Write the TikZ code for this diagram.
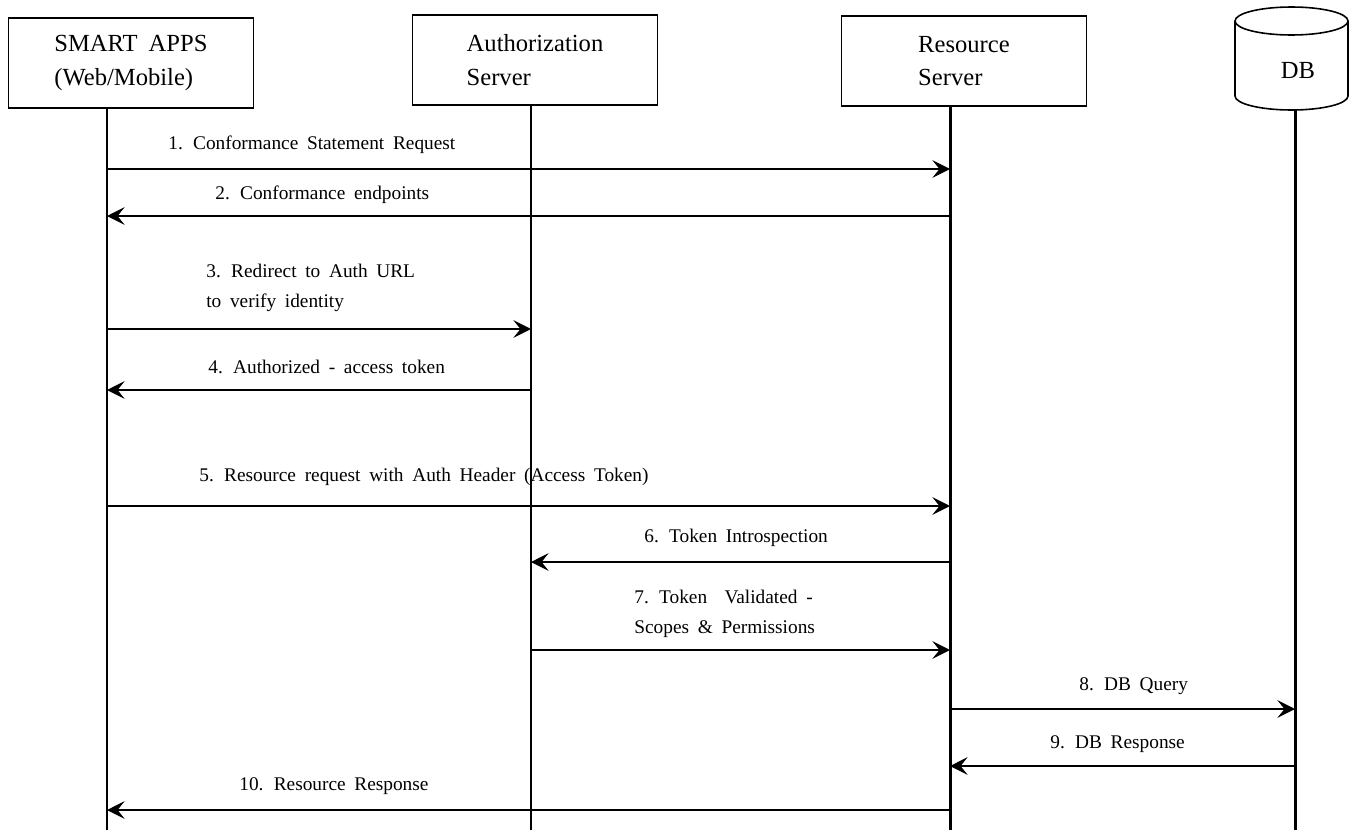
\documentclass[tikz,border=0pt]{standalone}
\usepackage{fontspec}
\setmainfont{Liberation Serif}[WordSpace=1.8]
\usetikzlibrary{arrows.meta}

\tikzset{
  actor/.style={draw, line width=0.9pt, minimum width=4.9cm, minimum height=1.8cm,
    align=left, font=\fontsize{14}{19}\selectfont},
  store/.style={line width=0.9pt},
  life/.style={line width=1.7pt},
  msg/.style={line width=1pt, -{Stealth[length=10pt,width=10pt,inset=4pt]}},
  lbl/.style={anchor=base west, inner sep=0pt, align=left, font=\fontsize{11}{17}\selectfont},
}

\begin{document}
\begin{tikzpicture}[x=0.02cm, y=0.02cm]
  \useasboundingbox (0,0) rectangle (1350,-835);
  % participants
  \node[actor] (app) at (131,-63) {SMART APPS\\(Web/Mobile)};
  \node[actor] (auth) at (535,-60) {Authorization\\Server};
  \node[actor] (res) at (964,-61) {Resource\\Server};
  % database drum
  \draw[store] (1291.5,-21) ellipse [x radius=56.5, y radius=14];
  \draw[store] (1235,-21) -- (1235,-96) arc[start angle=180, end angle=360, x radius=56.5, y radius=14] -- (1348,-21);
  \node[font=\fontsize{14}{19}\selectfont] (db) at (1298,-70) {DB};
  % message labels (two-line ones sit on their last baseline)
  \node[lbl] (l1) at (168,-149) {1. Conformance Statement Request};
  \node[lbl] (l2) at (215,-199) {2. Conformance endpoints};
  \node[lbl] (l3) at (206,-307) {3. Redirect to Auth URL\\to verify identity};
  \node[lbl] (l4) at (208,-373) {4. Authorized - access token};
  \node[lbl] (l5) at (199,-481) {5. Resource request with Auth Header (Access Token)};
  \node[lbl] (l6) at (644,-542) {6. Token Introspection};
  \node[lbl] (l7) at (634,-633) {7. Token~ Validated -\\Scopes \& Permissions};
  \node[lbl] (l8) at (1079,-690) {8. DB Query};
  \node[lbl] (l9) at (1050,-748) {9. DB Response};
  \node[lbl] (l10) at (239,-790) {10. Resource Response};
  % lifelines
  \foreach \n/\x/\t in {app/107/107, auth/531/105, res/950/107, db/1295/110}{
    \coordinate (\n Top) at (\x,-\t);
    \coordinate (\n Bot) at (\x,-830);
    \draw[life] (\n Top) -- (\n Bot);
  }
  % messages
  \foreach \y/\a/\b in {169/app/res, 216/res/app, 329/app/auth, 390/auth/app,
      506/app/res, 562/res/auth, 650/auth/res, 709/res/db, 766/db/res, 810/res/app}
    \draw[msg] (\a Top |- 0,-\y) -- (\b Top |- 0,-\y);
\end{tikzpicture}
\end{document}
